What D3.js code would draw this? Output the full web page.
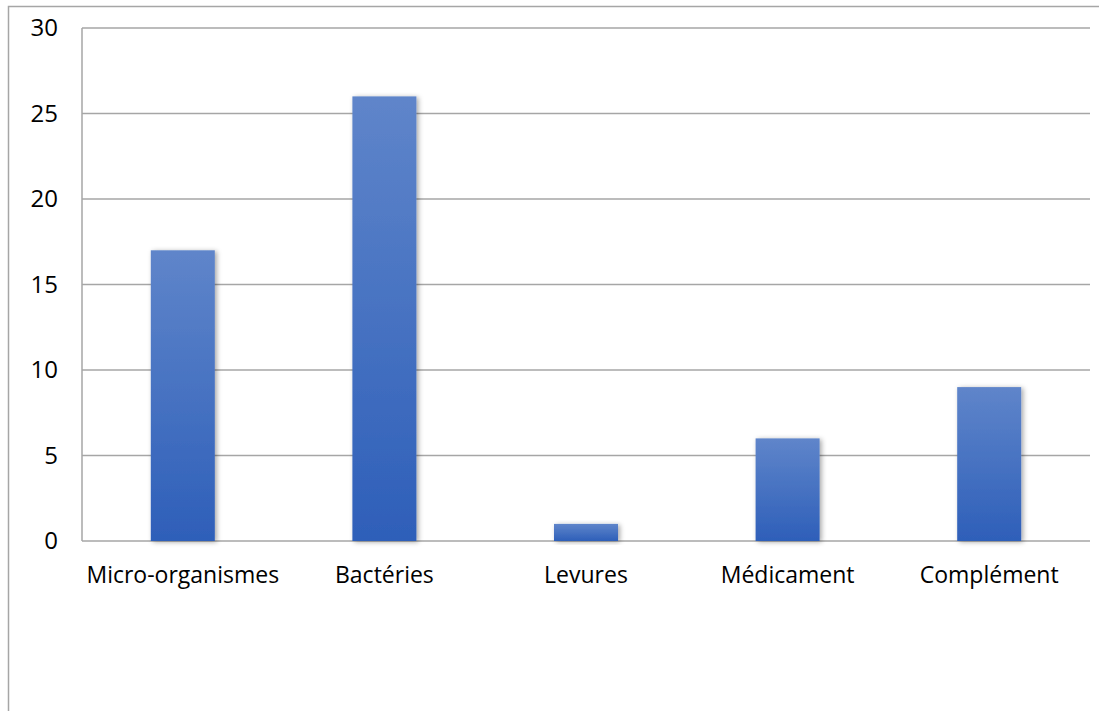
<!DOCTYPE html>
<html><head><meta charset="utf-8">
<script src="https://cdn.jsdelivr.net/npm/d3@7"></script>
<style>body{margin:0;background:#fff}svg{display:block}text{font-family:"Open Sans","Lato",sans-serif}</style>
</head><body>
<script>
const categories = ["Micro-organismes","Bactéries","Levures","Médicament","Complément"];
const values = [17, 26, 1, 6, 9];
const yTicks = [0, 5, 10, 15, 20, 25, 30];

(function(){
const W = 1099, H = 711;
const svg = d3.select("body").append("svg").attr("width", W).attr("height", H);
const defs = svg.append("defs");
const grad = defs.append("linearGradient").attr("id","barGrad").attr("x1",0).attr("y1",0).attr("x2",0).attr("y2",1);
grad.append("stop").attr("offset","0%").attr("stop-color","#5f85ca");
grad.append("stop").attr("offset","100%").attr("stop-color","#2e5fb9");
const f = defs.append("filter").attr("id","shadow").attr("x","-20%").attr("y","-20%").attr("width","140%").attr("height","140%");
f.append("feDropShadow").attr("dx",2).attr("dy",1).attr("stdDeviation",2.5).attr("flood-color","#000").attr("flood-opacity",0.35);

// outer chart border
svg.append("rect").attr("x",8.5).attr("y",6.5).attr("width",W+10).attr("height",H+10)
  .attr("fill","none").attr("stroke","#a6a6a6").attr("stroke-width",1.5);

const pLeft = 82, pRight = 1090, pTop = 28, pBottom = 541;
const x = d3.scaleBand().domain(categories).range([pLeft, pRight]).paddingInner(0.6825).paddingOuter(0.34125);
const y = d3.scaleLinear().domain([0, 30]).range([pBottom, pTop]);

// gridlines
svg.append("g").selectAll("line").data(yTicks).join("line")
  .attr("x1", pLeft).attr("x2", pRight).attr("y1", d => y(d)).attr("y2", d => y(d))
  .attr("stroke","#a6a6a6").attr("stroke-width",1.5);
// left axis line
svg.append("line").attr("x1",pLeft).attr("x2",pLeft).attr("y1",pTop).attr("y2",pBottom)
  .attr("stroke","#a6a6a6").attr("stroke-width",1.5);

// y labels
const yAxis = d3.axisLeft(y).tickValues(yTicks).tickSize(0).tickPadding(0).tickFormat(d3.format("d"));
const ya = svg.append("g").attr("transform",`translate(58,0)`).call(yAxis);
ya.select(".domain").remove();
ya.selectAll("text").attr("font-size",24).attr("fill","#000").style("font-family",'"Open Sans",sans-serif');

// bars
svg.append("g").selectAll("rect").data(values).join("rect")
  .attr("x",(d,i)=>x(categories[i])).attr("width",x.bandwidth())
  .attr("y",d=>y(d)).attr("height",d=>y(0)-y(d))
  .attr("fill","url(#barGrad)").attr("filter","url(#shadow)");

// x labels
const xAxis = d3.axisBottom(x).tickSize(0).tickPadding(0);
const xa = svg.append("g").attr("transform",`translate(0,583)`).call(xAxis);
xa.select(".domain").remove();
xa.selectAll("text").attr("font-size",23).attr("fill","#000").attr("y",0).attr("dy",0).style("font-family",'"Open Sans",sans-serif');
})();
</script>
</body></html>
